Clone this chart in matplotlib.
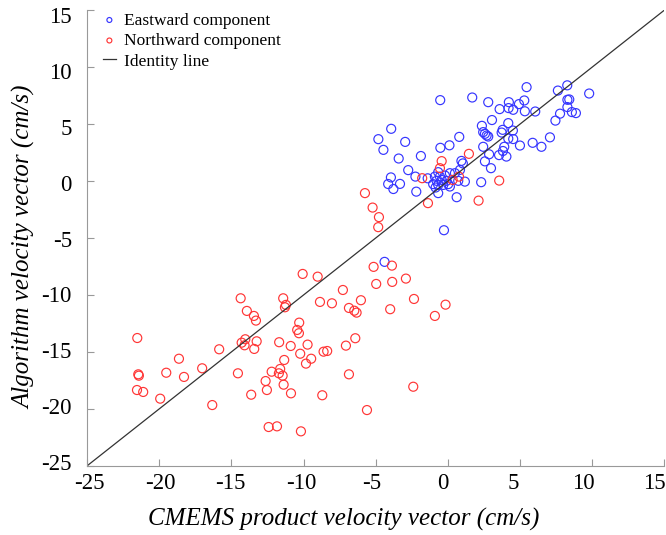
import numpy as np
import matplotlib
matplotlib.use('Agg')
import matplotlib.pyplot as plt
from matplotlib.transforms import ScaledTranslation

plt.rcParams['font.family'] = ['Liberation Serif', 'DejaVu Serif']
plt.rcParams['axes.unicode_minus'] = False

# Eastward component (CMEMS x, algorithm y)
east_x = [-0.52, 1.70, 2.81, 3.60, 4.24, 4.22, 4.54, 4.94, 5.31, 5.35, 6.07,
          5.47, 7.64, 8.29, 9.81, 8.30, 8.43, 8.30, 7.79, 8.61, 8.89, 7.47,
          3.07, 2.37, 4.20, 2.46, 2.58, 2.70, 2.81, 3.81, 3.74, 4.52, 7.09,
          5.89, 6.50, 5.01, 4.20, 4.54, 2.46, 3.92, 3.83, 4.07, 3.56, 2.87,
          2.58, 3.00, 0.80, 0.12, -0.51, -3.92, -4.81, -4.46, -2.95, -3.40,
          -1.86, 0.95, 1.05, 0.85, -2.74, -2.24, -3.94, -4.13, -3.77, -3.31,
          -2.18, -1.39, -0.66, -0.89, -0.54, -0.19, 0.15, 0.50, -0.77, -0.42,
          -0.08, -1.01, -0.66, -0.31, 0.03, -0.84, 0.73, 1.19, -0.66, 0.15,
          0.62, 2.32, -0.26, -4.38]
east_y = [7.12, 7.35, 6.94, 6.33, 6.94, 6.42, 6.27, 6.77, 7.09, 6.14, 6.12,
          8.26, 7.96, 8.42, 7.70, 7.15, 7.18, 6.51, 5.93, 6.07, 5.98, 5.32,
          5.37, 4.86, 5.10, 4.31, 4.16, 4.01, 3.92, 4.51, 4.27, 4.45, 3.85,
          3.37, 3.02, 3.13, 3.74, 3.70, 3.02, 3.02, 2.65, 2.16, 2.29, 2.36,
          1.74, 1.14, 3.89, 3.15, 2.93, 4.60, 3.69, 2.75, 3.45, 1.99,
          2.21, 1.78, 1.56, 0.99, 0.97, 0.40, 0.33, -0.25, -0.69, -0.24,
          -0.92, 0.25, 0.79, 0.40, 0.40, 0.49, 0.70, 0.70, 0.03, 0.11,
          0.03, -0.26, -0.33, -0.33, -0.26, -0.56, 0.03, -0.04, -1.05, -0.47,
          -1.41, -0.09, -4.31, -7.09]

# Northward component
north_x = [-14.36, -13.93, -13.44, -13.30, -21.53, -14.04, -14.29, -14.09,
           -13.25, -15.85, -13.42, -18.64, -21.46, -21.42, -19.52, -17.03,
           -18.29, -14.55, -21.55, -21.12, -19.94, -16.33, -13.63, -12.63,
           -12.54, -5.74, -5.21, -4.77, -4.82, -1.37, -1.77, 2.14, -5.14,
           -3.87, -10.06, -9.02, -4.96, -3.85, -2.90, -7.27, -11.41, -11.22,
           -11.29, -8.86, -8.03, -6.02, -6.85, -6.48, -6.32, -3.99, -2.34,
           -0.15, -0.89, -10.30, -10.44, -10.32, -11.69, -10.89, -9.72,
           -10.23, -8.61, -8.36, -7.06, -6.41, -11.34, -9.47, -9.83, -11.62,
           -11.71, -11.45, -12.21, -11.38, -10.87, -8.70, -6.85, -2.39, -5.60,
           -12.42, -11.84, -10.18, 1.47, -0.42, -0.54, 0.34, 0.78, 3.57]
north_y = [-10.29, -11.40, -11.84, -12.25, -13.78, -13.89, -14.19, -14.42,
           -14.07, -14.77, -14.74, -15.60, -16.97, -17.09, -16.83, -16.44,
           -17.20, -16.88, -18.35, -18.52, -19.11, -19.67, -18.76, -17.56,
           -18.35, -1.05, -2.32, -3.16, -4.04, -1.93, 0.26, -1.71, -7.53,
           -7.42, -8.15, -8.39, -9.03, -8.85, -8.56, -9.56, -10.29, -10.87,
           -11.08, -10.61, -10.73, -10.46, -11.14, -11.38, -11.55, -11.25, -10.35,
           -10.85, -11.84, -12.43, -13.07, -13.36, -14.15, -14.48, -14.36,
           -15.16, -14.98, -14.92, -14.45, -13.80, -15.71, -15.60, -16.03, -16.50,
           -16.88, -17.09, -16.74, -17.88, -18.64, -18.81, -16.97, -18.06, -20.11,
           -21.60, -21.54, -21.98, 2.40, 1.76, 1.14, 0.11, 0.40, 0.05]

ticks = [-25, -20, -15, -10, -5, 0, 5, 10, 15]

fig = plt.figure(figsize=(6.66, 5.35), dpi=100)
ax = fig.add_axes([0.131, 0.1295, 0.866, 0.851])

ax.scatter(east_x, east_y, s=42, facecolors='none', edgecolors='#3535ff',
           linewidths=0.85, label='Eastward component')
ax.scatter(north_x, north_y, s=42, facecolors='none', edgecolors='#ff3535',
           linewidths=0.85, label='Northward component')
ax.plot([-25, 15], [-25, 15], color='#333333', linewidth=0.9, label='Identity line')

ax.set_xlim(-25, 15)
ax.set_ylim(-25, 15)
ax.set_xticks(ticks)
ax.set_yticks(ticks)
ax.tick_params(direction='in', length=5, color='#999999', labelsize=16.5)
ax.tick_params(axis='x', pad=5)
ax.tick_params(axis='y', pad=11)
for side in ['top', 'right']:
    ax.spines[side].set_visible(False)
for side in ['left', 'bottom']:
    ax.spines[side].set_color('#999999')

# tick labels in the original sit slightly pulled toward the centre
for v, tk in zip(ticks, ax.xaxis.get_major_ticks()):
    dx = 2.5 - (v + 25) / 40.0 * 12.5
    tk.label1.set_transform(tk.label1.get_transform() +
                            ScaledTranslation(dx / 100.0, 0, fig.dpi_scale_trans))
for v, tk in zip(ticks, ax.yaxis.get_major_ticks()):
    dy = -(5 - (15 - v) / 40.0 * 9)
    tk.label1.set_transform(tk.label1.get_transform() +
                            ScaledTranslation(0, dy / 100.0, fig.dpi_scale_trans))

ax.set_xlabel('CMEMS product velocity vector (cm/s)', fontsize=18,
              fontstyle='italic')
ax.set_ylabel('Algorithm velocity vector (cm/s)', fontsize=18,
              fontstyle='italic')
ax.xaxis.set_label_coords(0.444, -0.092)
ax.yaxis.set_label_coords(-0.088, 0.48)

ax.legend(loc='upper left', bbox_to_anchor=(0.0, 1.03), frameon=False,
          fontsize=12.5, markerscale=0.55, handlelength=0.75,
          handletextpad=0.45, labelspacing=0.25)

plt.savefig('out.png', dpi=100)
